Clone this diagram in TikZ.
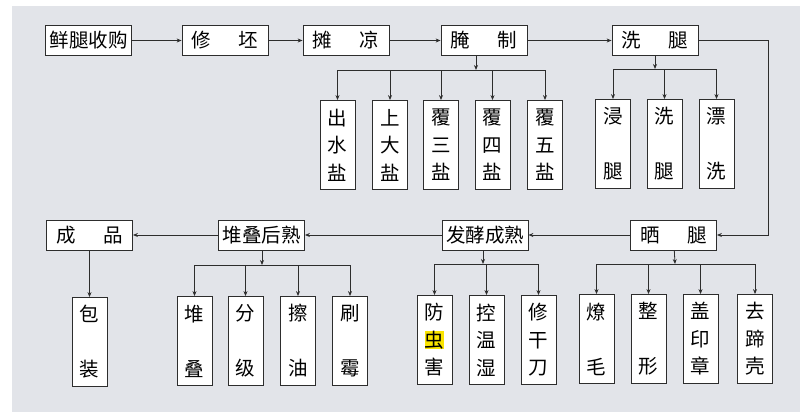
\documentclass[tikz,border=0pt]{standalone}
\usepackage{fontspec}
\newfontfamily\cjk{Noto Sans CJK SC}
\usetikzlibrary{arrows.meta}
\definecolor{bggray}{RGB}{226,228,233}
\definecolor{linegray}{RGB}{45,45,45}
\definecolor{hly}{RGB}{250,228,0}
\newcommand{\wsp}{\hspace{1.4em}}
\tikzset{   main/.style = {rectangle, draw = linegray, thick, fill = white, minimum width = 86pt, minimum height = 30pt, inner sep = 0pt, font = \cjk\fontsize{19.5pt}{27.5pt}\selectfont},
            lower/.style = {rectangle, draw = linegray, thick, fill = white, minimum width = 35pt, minimum height = 89pt, inner sep = 0pt, align = center, font = \cjk\fontsize{19.5pt}{27.5pt}\selectfont},
            line/.style = {draw = linegray, thick},
            arr/.style = {line, -{Stealth[length=5pt,width=4pt]}}}

\begin{document}
\begin{tikzpicture}[x=1pt,y=-1pt]
                        \useasboundingbox (0,0) rectangle (807,415);
                        \fill[bggray] (12,6) rectangle (800,412);
                        % top row
                        \node[main] (xs) at (88.5,40.5) {鲜腿收购};
                        \node[main] (xp) at (225,40.5) {修\wsp 坯};
                        \node[main] (tl) at (346,40.5) {摊\wsp 凉};
                        \node[main] (yz) at (484,40.5) {腌\wsp 制};
                        \node[main] (xt) at (655,40.5) {洗\wsp 腿};
                        \draw[arr] (xs) -- (xp);
                        \draw[arr] (xp) -- (tl);
                        \draw[arr] (tl) -- (yz);
                        \draw[arr] (yz) -- (xt);
                        % bottom row
                        \node[main] (cp) at (89.5,235) {成\wsp 品};
                        \node[main] (dd) at (261.5,235) {堆叠后熟};
                        \node[main] (fx) at (485,235) {发酵成熟};
                        \node[main] (sh) at (673.5,235) {晒\wsp 腿};
                        \coordinate (bend) at (768,40.5);
                        \draw[arr] (xt.east) -- (bend) |- (sh.east);
                        \draw[arr] (sh) -- (fx);
                        \draw[arr] (fx) -- (dd);
                        \draw[arr] (dd) -- (cp);
                        % salting
                        \node[lower] (cs) at (337.5,145) {出\\水\\盐};
                        \node[lower] (sd) at (390,145) {上\\大\\盐};
                        \node[lower] (f3) at (441,145) {覆\\三\\盐};
                        \node[lower] (f4) at (492.5,145) {覆\\四\\盐};
                        \node[lower] (f5) at (545,145) {覆\\五\\盐};
                        \coordinate (b1) at (476,70);
                        \draw[arr] (b1 |- yz.south) -- (b1);
                        \draw[line] (cs |- b1) -- (f5 |- b1);
                        \draw[arr] (cs |- b1) -- (cs.north);
                        \draw[arr] (sd |- b1) -- (sd.north);
                        \draw[arr] (f3 |- b1) -- (f3.north);
                        \draw[arr] (f4 |- b1) -- (f4.north);
                        \draw[arr] (f5 |- b1) -- (f5.north);
                        % washing
                        \node[lower] (jt) at (613,144) {浸\\[27.5pt]腿};
                        \node[lower] (xtt) at (664.5,144) {洗\\[27.5pt]腿};
                        \node[lower] (pxi) at (716.5,144) {漂\\[27.5pt]洗};
                        \coordinate (b2) at (655,69);
                        \draw[arr] (xt) -- (b2);
                        \draw[line] (jt |- b2) -- (pxi |- b2);
                        \draw[arr] (jt |- b2) -- (jt.north);
                        \draw[arr] (xtt |- b2) -- (xtt.north);
                        \draw[arr] (pxi |- b2) -- (pxi.north);
                        % drying
                        \node[lower] (lm) at (596.5,339) {燎\\[27.5pt]毛};
                        \node[lower] (zx) at (648.5,339) {整\\[27.5pt]形};
                        \node[lower] (gy) at (700.5,339) {盖\\印\\章};
                        \node[lower] (qt) at (755,339) {去\\蹄\\壳};
                        \coordinate (b3) at (675,264);
                        \draw[arr] (sh) -- (b3);
                        \draw[line] (lm |- b3) -- (qt |- b3);
                        \draw[arr] (lm |- b3) -- (lm.north);
                        \draw[arr] (zx |- b3) -- (zx.north);
                        \draw[arr] (gy |- b3) -- (gy.north);
                        \draw[arr] (qt |- b3) -- (qt.north);
                        % fermenting
                        \node[lower] (fc) at (434.5,340) {防\\{\fboxsep=0pt\colorbox{hly}{虫}}\\害};
                        \node[lower] (kw) at (486.5,340) {控\\温\\湿};
                        \node[lower] (xg) at (538.5,340) {修\\干\\刀};
                        \coordinate (b4) at (483,264);
                        \draw[arr] (b4 |- fx.south) -- (b4);
                        \draw[line] (fc |- b4) -- (xg |- b4);
                        \draw[arr] (fc |- b4) -- (fc.north);
                        \draw[arr] (kw |- b4) -- (kw.north);
                        \draw[arr] (xg |- b4) -- (xg.north);
                        % stacking
                        \node[lower] (dde) at (194.5,341) {堆\\[27.5pt]叠};
                        \node[lower] (fji) at (245.5,341) {分\\[27.5pt]级};
                        \node[lower] (cy) at (298,341) {擦\\[27.5pt]油};
                        \node[lower] (sm) at (350,341) {刷\\[27.5pt]霉};
                        \coordinate (b5) at (262,265);
                        \draw[arr] (b5 |- dd.south) -- (b5);
                        \draw[line] (dde |- b5) -- (sm |- b5);
                        \draw[arr] (dde |- b5) -- (dde.north);
                        \draw[arr] (fji |- b5) -- (fji.north);
                        \draw[arr] (cy |- b5) -- (cy.north);
                        \draw[arr] (sm |- b5) -- (sm.north);
                        % packing
                        \node[lower] (bz) at (89.5,342) {包\\[27.5pt]装};
                        \draw[arr] (cp) -- (bz);
\end{tikzpicture}
\end{document}
